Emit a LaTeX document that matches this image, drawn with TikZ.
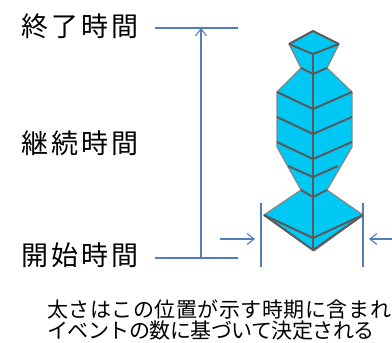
\documentclass[tikz,border=0pt]{standalone}
\usepackage{fontspec}
\usetikzlibrary{arrows.meta}
\newfontfamily\jpfont[LetterSpace=11]{Noto Sans CJK JP}
\newfontfamily\jpnotewide[LetterSpace=2.5]{Noto Sans CJK JP}
\newfontfamily\jpnotetight[LetterSpace=-2.5]{Noto Sans CJK JP}
\definecolor{guide}{HTML}{4F7DBE}
\definecolor{body}{HTML}{00C8F5}
\definecolor{edge}{HTML}{858585}
\definecolor{rib}{HTML}{5A5A5A}
\tikzset{
  label/.style={anchor=west, inner sep=0pt, font=\jpfont\fontsize{27}{30}\selectfont},
  note/.style={anchor=west, inner sep=0pt},
  guideline/.style={draw=guide, line width=1.1pt},
  guidearrow/.style={guideline, -{Straight Barb[length=7pt,width=11pt,line width=1.1pt]}},
  ribline/.style={draw=rib, line width=2pt, line join=round},
}
\begin{document}
\begin{tikzpicture}[x=1pt,y=-1pt]
\useasboundingbox (0,0) rectangle (392,343);

% time labels
\node[label] (end)   at (21,26)  {終了時間};
\node[label] (dur)   at (21,143) {継続時間};
\node[label] (start) at (21,255) {開始時間};

% explanatory note
\node[note, font=\jpnotewide\fontsize{21}{22}\selectfont] (note1) at (47,309) {太さはこの位置が示す時期に含まれ};
\node[note, font=\jpnotetight\fontsize{21}{22}\selectfont] (note2) at (47,331) {イベントの数に基づいて決定される};

% time axis guides
\coordinate (tl) at (155,28);  \coordinate (tr) at (238,28);
\coordinate (bl) at (155,258); \coordinate (br) at (238,258);
\coordinate (ta) at (201,28);  \coordinate (ba) at (201,258);
\draw[guideline] (tl) -- (tr);
\draw[guideline] (bl) -- (br);
\draw[guidearrow, {Straight Barb[length=7pt,width=11pt,line width=1.1pt]}-] (ta) -- (ba);

% width bracket
\coordinate (wl1) at (261,203); \coordinate (wl2) at (261,267);
\coordinate (wr1) at (363,203); \coordinate (wr2) at (363,267);
\draw[guideline] (wl1) -- (wl2);
\draw[guideline] (wr1) -- (wr2);
\coordinate (al0) at (220,239); \coordinate (al1) at (255,239);
\coordinate (ar0) at (393,239); \coordinate (ar1) at (369,239);
\draw[guidearrow] (al0) -- (al1);
\draw[guidearrow] (ar0) -- (ar1);

% event volume glyph
\fill[body, draw=edge, line width=1.2pt, line join=round]
  (313,31) -- (339,44) -- (327,68) -- (352,92) -- (352,147) -- (327,190)
  -- (363,215) -- (314,251) -- (264,215) -- (301,190) -- (277,147)
  -- (277,92) -- (301,68) -- (289,44) -- cycle;
\draw[ribline] (289,44) -- (313,31) -- (339,44);
\draw[ribline] (289,44) -- (313,54) -- (339,44);
\draw[ribline] (301,68) -- (313,74) -- (327,68);
\draw[ribline] (277,92) -- (313,109) -- (352,92);
\draw[ribline] (277,117) -- (313,134) -- (352,117);
\draw[ribline] (277,142) -- (313,159) -- (352,142);
\draw[ribline] (288,166) -- (313,177) -- (338,166);
\draw[ribline] (301,190) -- (313,197) -- (327,190);
\draw[ribline] (264,215) -- (313,238) -- (363,215);
\draw[ribline] (264,215) -- (313,250) -- (363,215);
\draw[ribline] (313,54) -- (313,250);
\end{tikzpicture}
\end{document}
